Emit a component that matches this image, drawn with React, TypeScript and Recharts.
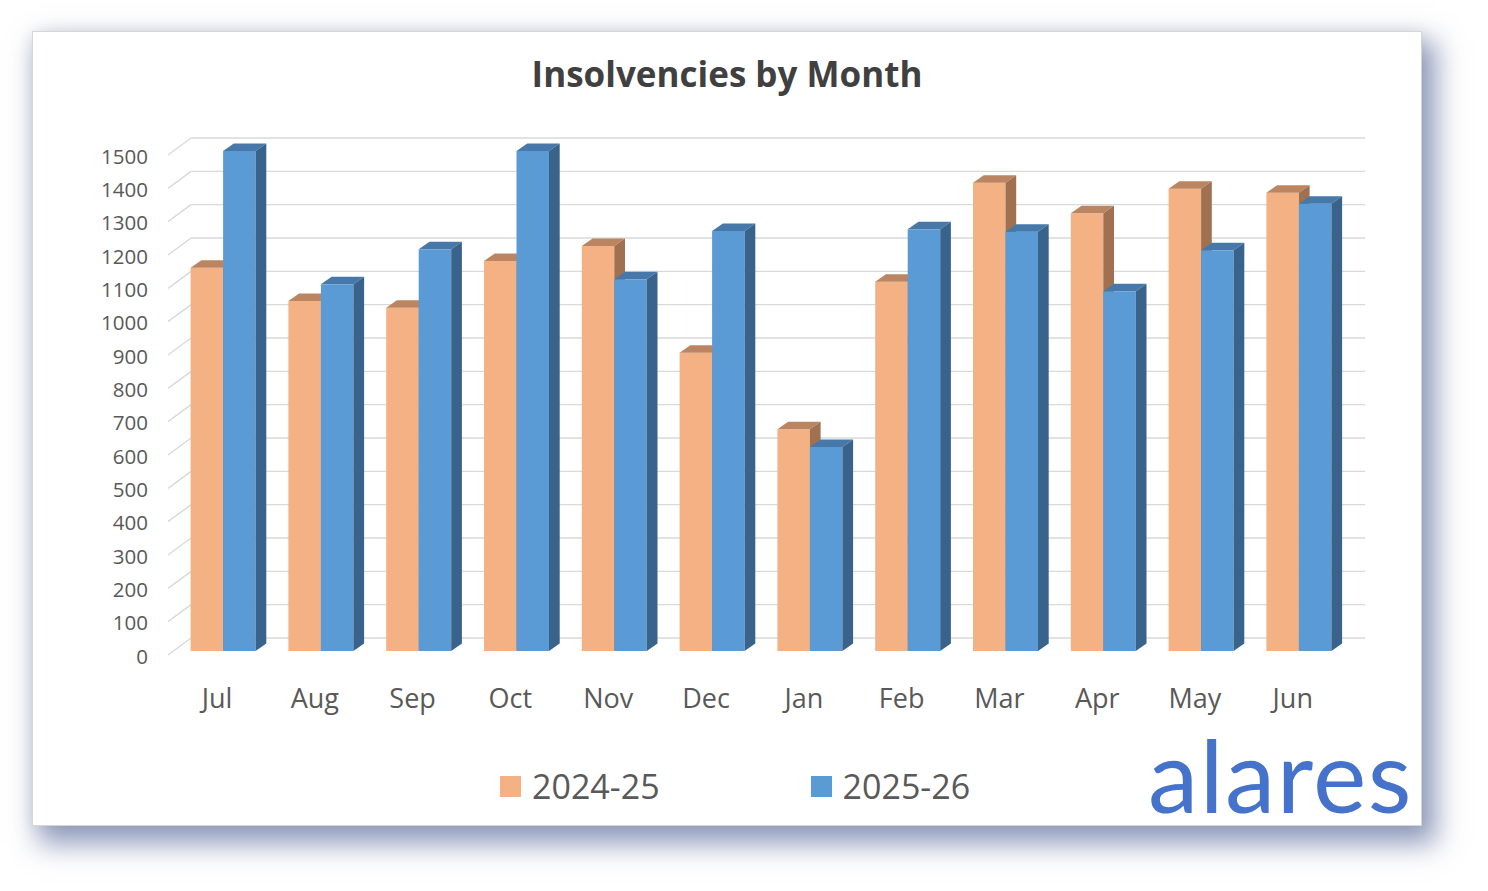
import React from 'react';
import { BarChart, Bar, XAxis, YAxis, CartesianGrid } from 'recharts';

const months = ['Jul', 'Aug', 'Sep', 'Oct', 'Nov', 'Dec', 'Jan', 'Feb', 'Mar', 'Apr', 'May', 'Jun'];
const fy2425 = [1150, 1050, 1030, 1170, 1215, 895, 665, 1108, 1405, 1313, 1387, 1375];
const fy2526 = [1500, 1100, 1205, 1500, 1115, 1260, 612, 1265, 1258, 1079, 1202, 1342];
const yTicks = [0, 100, 200, 300, 400, 500, 600, 700, 800, 900, 1000, 1100, 1200, 1300, 1400, 1500];
const seriesNames = ['2024-25', '2025-26'];
const seriesColors = ['#F4B183', '#5B9BD5'];

const data = months.map((m, i) => ({ month: m, a: fy2425[i], b: fy2526[i] }));

const W = 1488;
const H = 891;
const FONT = '"Open Sans", "Noto Sans", sans-serif';
const DX = 10.7;
const DY = 7.5;

function make3D(front: string, top: string, side: string) {
  return (props: any) => {
    const { x, y, width, height } = props;
    if (width == null || height == null || isNaN(y)) return <g />;
    const x2 = x + width;
    const y2 = y + height;
    return (
      <g>
        <rect x={x} y={y} width={width} height={height} fill={front} />
        <polygon points={`${x},${y} ${x + DX},${y - DY} ${x2 + DX},${y - DY} ${x2},${y}`} fill={top} />
        <polygon points={`${x2},${y} ${x2 + DX},${y - DY} ${x2 + DX},${y2 - DY} ${x2},${y2}`} fill={side} />
      </g>
    );
  };
}

const orangeShape = make3D('#F4B183', '#BC8561', '#9F7151');
const blueShape = make3D('#5B9BD5', '#4679AA', '#39638A');

const gridFn = (p: any) => {
  const { x1, y1, x2 } = p;
  const bx1 = x1 + 16.5;
  const by = y1 - 13;
  return (
    <g key={`g-${y1}`}>
      <line x1={x1 - 6.6} y1={y1 + 4} x2={bx1} y2={by} stroke="#D9D9D9" strokeWidth={1.4} />
      <line x1={bx1} y1={by} x2={x2 + 17} y2={by} stroke="#D9D9D9" strokeWidth={1.4} />
    </g>
  );
};

const XTick = (props: any) => {
  const { x, y, payload } = props;
  return (
    <text x={x - 6.5} y={y + 51} textAnchor="middle" fontFamily={FONT} fontSize={27} fill="#595959">
      {payload.value}
    </text>
  );
};

const YTick = (props: any) => {
  const { x, y, payload } = props;
  return (
    <text x={x} y={y + 4.5} textAnchor="end" dominantBaseline="central" fontFamily={FONT} fontSize={20.5} fill="#595959">
      {payload.value}
    </text>
  );
};

export default function App() {
  return (
    <div style={{ position: 'absolute', left: 0, top: 0, width: W, height: H, background: '#fff', overflow: 'hidden', fontFamily: FONT }}>
      <div
        style={{
          position: 'absolute',
          left: 32,
          top: 31,
          width: 1388,
          height: 793,
          background: '#fff',
          border: '1px solid #D6D6D6',
          boxShadow: '10px 14px 26px 4px rgba(55,75,135,0.55), 0 0 14px rgba(0,0,0,0.07)',
        }}
      />
      <div style={{ position: 'absolute', left: 0, top: 0 }}>
        <BarChart
          width={W}
          height={H}
          data={data}
          margin={{ top: 151, right: 139.8, bottom: 200, left: 114.6 }}
          barGap={0}
          barSize={32.5}
        >
          <CartesianGrid vertical={false} horizontal={gridFn} />
          <XAxis dataKey="month" axisLine={false} tickLine={false} height={40} tickMargin={0} tick={XTick} interval={0} />
          <YAxis
            domain={[0, 1500]}
            ticks={yTicks}
            axisLine={false}
            tickLine={false}
            width={60}
            tickMargin={20.6}
            tick={YTick}
            interval={0}
          />
          <Bar dataKey="a" name={seriesNames[0]} fill={seriesColors[0]} shape={orangeShape} isAnimationActive={false} />
          <Bar dataKey="b" name={seriesNames[1]} fill={seriesColors[1]} shape={blueShape} isAnimationActive={false} />
        </BarChart>
      </div>
      <svg width={W} height={H} style={{ position: 'absolute', left: 0, top: 0, pointerEvents: 'none' }}>
        <text x={727} y={87} textAnchor="middle" fontFamily={FONT} fontWeight={700} fontSize={35} fill="#404040">
          Insolvencies by Month
        </text>
        <text x={1413} y={813} textAnchor="end" fontFamily="Lato, sans-serif" fontSize={101} letterSpacing={1.5} fill="#4573CC">
          alares
        </text>
      </svg>
      <div style={{ position: 'absolute', left: 500, top: 760, display: 'flex', alignItems: 'center', height: 52 }}>
        {seriesNames.map((n, i) => (
          <div key={n} style={{ display: 'flex', alignItems: 'center', marginLeft: i === 0 ? 0 : 151 }}>
            <div style={{ width: 21, height: 21, background: seriesColors[i], marginRight: 11 }} />
            <span style={{ fontSize: 34, color: '#595959', lineHeight: '52px' }}>{n}</span>
          </div>
        ))}
      </div>
    </div>
  );
}
